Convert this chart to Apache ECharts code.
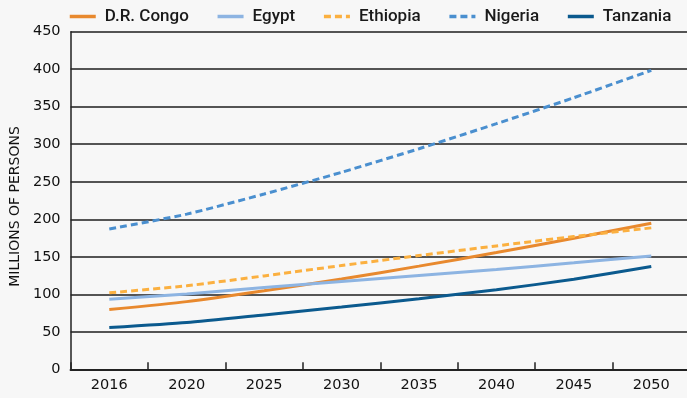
<!DOCTYPE html>
<html>
<head>
<meta charset="utf-8">
<script src="https://cdn.jsdelivr.net/npm/echarts@6/dist/echarts.min.js"></script>
<style>
html,body{margin:0;padding:0;background:#f7f7f7;overflow:hidden;width:687px;height:398px;}
#c{width:690px;height:398px;}
</style>
</head>
<body>
<div id="c"></div>
<script>
const years = ['2016','2020','2025','2030','2035','2040','2045','2050'];
const drCongo  = [79.7, 90.2, 104.7, 120.3, 137.5, 155.6, 174.7, 194.8];
const egypt    = [93.4, 100.5, 108.9, 117.1, 125.0, 133.0, 141.9, 151.1];
const ethiopia = [101.9, 111.3, 124.5, 138.3, 151.6, 164.5, 177.0, 188.5];
const nigeria  = [187.0, 206.8, 233.6, 262.6, 294.0, 327.4, 362.0, 398.5];
const tanzania = [55.6, 62.3, 72.5, 82.9, 94.1, 106.0, 120.1, 137.1];
const yTicks = {min: 0, max: 450, interval: 50};

const chart = echarts.init(document.getElementById('c'), null, {renderer: 'canvas'});
const font = 'DejaVu Sans';
function line(name, data, color, dashed) {
  return {
    name, type: 'line', data, symbol: 'none', smooth: 0.2,
    lineStyle: {color, width: 3, type: dashed ? [7, 4] : 'solid', cap: 'butt'},
    itemStyle: {color},
    z: 3
  };
}
chart.setOption({
  backgroundColor: '#f7f7f7',
  animation: false,
  legend: {
    left: 63, top: 3,
    itemWidth: 26, itemHeight: 12, itemGap: 27,
    itemStyle: {opacity: 0},
    lineStyle: {width: 3.5},
    textStyle: {fontFamily: 'Roboto', fontWeight: 500, fontSize: 17, color: '#1a1a1a', padding: [0,0,0,4]},
    data: ['D.R. Congo','Egypt','Ethiopia','Nigeria','Tanzania']
  },
  grid: {left: 68.3, right: 0, top: 31.7, bottom: 28.7, containLabel: false},
  xAxis: {
    type: 'category', data: years, boundaryGap: true,
    axisLine: {show: true, lineStyle: {color: '#222', width: 2}},
    axisTick: {show: true, inside: true, length: 7, lineStyle: {color: '#222', width: 1.5}},
    axisLabel: {fontFamily: font, fontSize: 14.5, color: '#111', margin: 8},
    splitLine: {show: false}
  },
  yAxis: {
    type: 'value', min: yTicks.min, max: yTicks.max, interval: yTicks.interval,
    name: 'MILLIONS OF PERSONS', nameLocation: 'middle', nameGap: 45,
    nameTextStyle: {fontFamily: font, fontSize: 14, color: '#111', padding: [0, 12, 0, 0]},
    axisLine: {show: true, lineStyle: {color: '#222', width: 1.5}},
    axisTick: {show: false},
    axisLabel: {fontFamily: font, fontSize: 14.5, color: '#111', margin: 10},
    splitLine: {show: true, lineStyle: {color: '#1e1e1e', width: 1.5}}
  },
  series: [
    line('D.R. Congo', drCongo, '#e8892e', false),
    line('Egypt', egypt, '#8db4e2', false),
    line('Ethiopia', ethiopia, '#fbb040', true),
    line('Nigeria', nigeria, '#4a8fcf', true),
    line('Tanzania', tanzania, '#0b5a8e', false)
  ]
});
</script>
</body>
</html>
